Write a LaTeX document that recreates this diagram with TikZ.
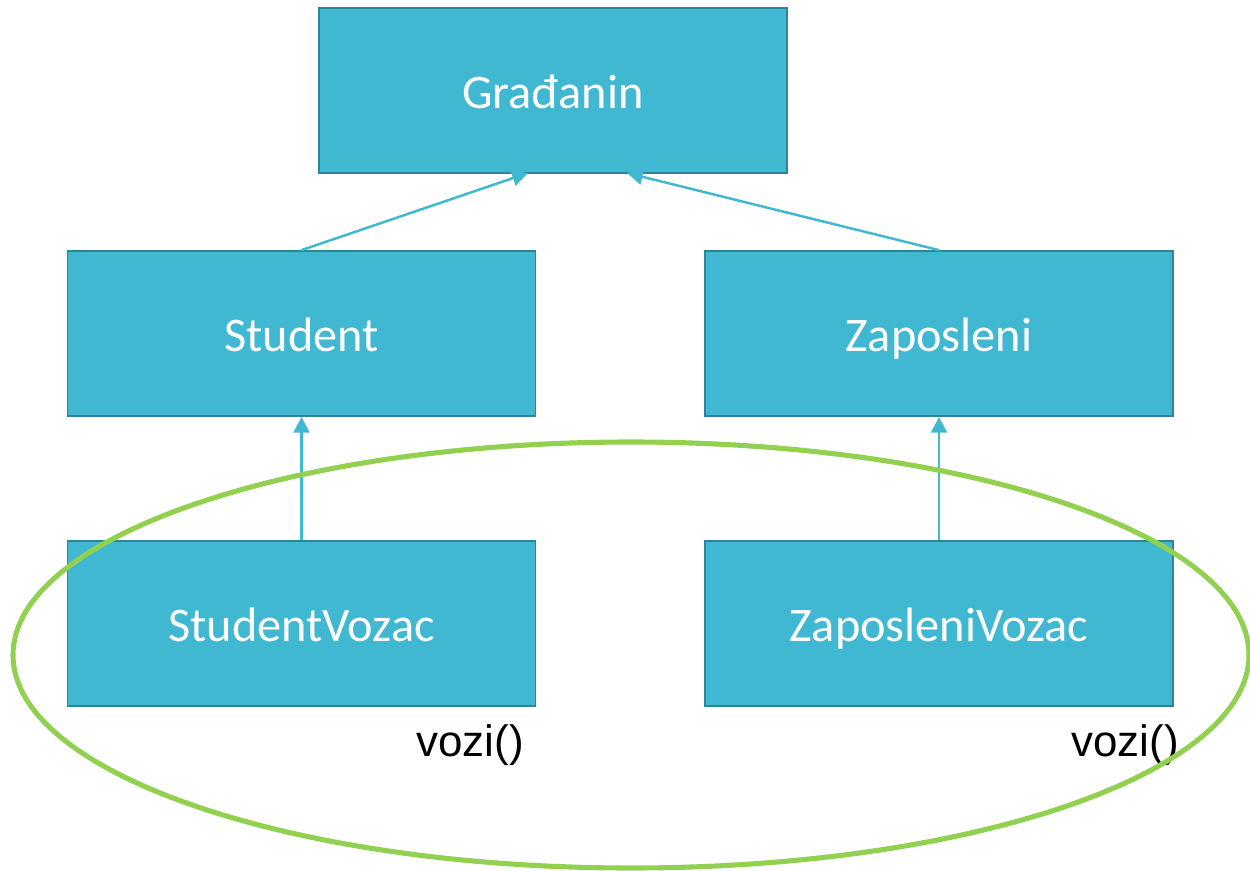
\documentclass[tikz,border=0pt]{standalone}
\usepackage{fontspec}
\setmainfont{Carlito}
\newfontfamily\arialfont{Liberation Sans}
\usetikzlibrary{arrows.meta}
\definecolor{boxfill}{HTML}{41B8D2}
\definecolor{boxline}{HTML}{2E8499}
\definecolor{ellgreen}{HTML}{92D050}
\tikzset{
  cls/.style={draw=boxline, line width=1pt, fill=boxfill, minimum width=9.36cm, minimum height=3.3cm, inner sep=0pt, text=white, text height=24pt, text depth=3.2pt, font=\fontsize{27.5}{32}\selectfont},
  inh/.style={draw=boxfill, line width=1.4pt, -{Triangle[length=9pt,width=9pt]}},
  lbl/.style={font=\arialfont\fontsize{25}{29}\selectfont, text=black, inner sep=0pt}
}
\begin{document}
\begin{tikzpicture}[x=0.02cm,y=-0.02cm]
\useasboundingbox (0,0) rectangle (1250,871);
\node[cls] (g) at (553,90.5) {Građanin};
\node[cls] (s) at (301.5,333.5) {Student};
\node[cls] (z) at (939,333.5) {Zaposleni};
\node[cls] (sv) at (301.5,623.5) {StudentVozac};
\node[cls] (zv) at (939,623.5) {ZaposleniVozac};
\coordinate (gl) at (528,173);
\coordinate (gr) at (627,173);
\draw[inh] (s.north) -- (gl);
\draw[inh] (z.north) -- (gr);
\draw[inh] (sv.north) -- (s.south);
\draw[inh] (zv.north) -- (z.south);
\node[lbl] (v1) at (470,745) {vozi()};
\node[lbl] (v2) at (1125,745) {vozi()};
\draw[ellgreen, line width=2.9pt] (631,655) ellipse [x radius=618, y radius=213];
\end{tikzpicture}
\end{document}
